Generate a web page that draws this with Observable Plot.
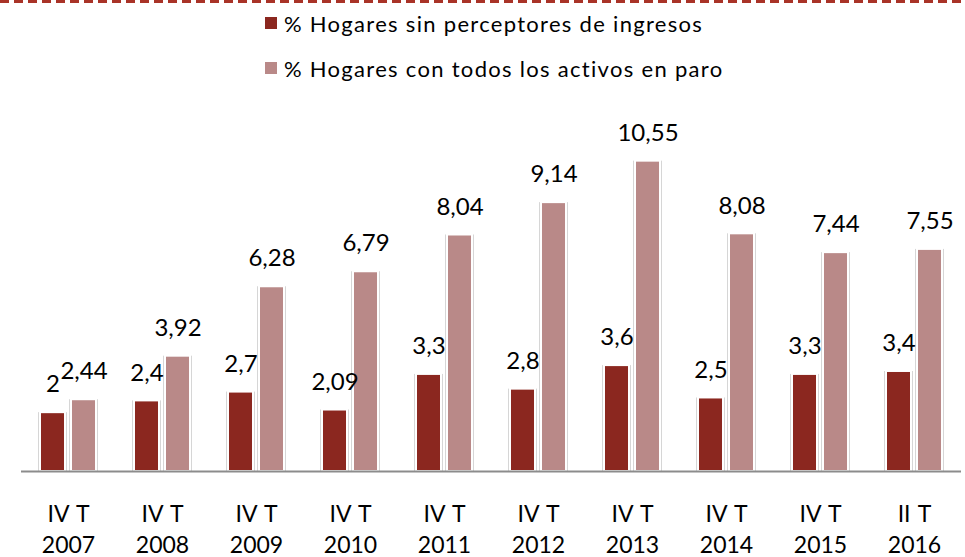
<!DOCTYPE html>
<html>
<head>
<meta charset="utf-8">
<script src="https://cdn.jsdelivr.net/npm/d3@7"></script>
<script src="https://cdn.jsdelivr.net/npm/@observablehq/plot@0.6"></script>
<style>
  html, body { margin: 0; padding: 0; background: #fff; }
  body { width: 965px; height: 557px; position: relative; overflow: hidden; font-family: Lato, "Open Sans", sans-serif; }
  #dash { position: absolute; left: 0; top: 0; width: 965px; height: 3px;
    background: repeating-linear-gradient(90deg, #A93328 0 9px, transparent 9px 14px); }
  #legend { position: absolute; left: 0; top: 0; width: 965px; height: 95px; }
  .row { position: absolute; left: 265px; height: 30px; display: flex; align-items: center; font-size: 22px; letter-spacing: 1.3px; color: #000; white-space: nowrap; }
  .sw { width: 12px; height: 12px; margin-right: 7px; display: inline-block; }
  #chart { position: absolute; left: 0; top: 95px; }
  #chart svg text { word-spacing: 2px; }
</style>
</head>
<body>
<div id="dash"></div>
<div id="legend"></div>
<div id="chart"></div>
<script>
const categories = ["IV T\n2007", "IV T\n2008", "IV T\n2009", "IV T\n2010", "IV T\n2011", "IV T\n2012", "IV T\n2013", "IV T\n2014", "IV T\n2015", "II T\n2016"];
const sinPerceptores = [2, 2.4, 2.7, 2.09, 3.3, 2.8, 3.6, 2.5, 3.3, 3.4];
const todosEnParo = [2.44, 3.92, 6.28, 6.79, 8.04, 9.14, 10.55, 8.08, 7.44, 7.55];
const seriesNames = ["% Hogares sin perceptores de ingresos", "% Hogares con todos los activos en paro"];
const seriesColors = ["#8B271F", "#B98988"];

const data = [];
categories.forEach((c, i) => {
  data.push({cat: c, series: seriesNames[0], value: sinPerceptores[i]});
  data.push({cat: c, series: seriesNames[1], value: todosEnParo[i]});
});
const fmt = v => String(v).replace(".", ",");

// legend
const legend = document.getElementById("legend");
seriesNames.forEach((name, i) => {
  const row = document.createElement("div");
  row.className = "row";
  row.style.top = (8 + i * 45) + "px";
  const sw = document.createElement("span");
  sw.className = "sw";
  sw.style.background = seriesColors[i];
  row.appendChild(sw);
  row.appendChild(document.createTextNode(name));
  legend.appendChild(row);
});

const chart = Plot.plot({
  width: 965,
  height: 462,
  marginLeft: 17,
  marginRight: 0,
  marginTop: 23,
  marginBottom: 86,
  fx: {domain: categories, padding: 0, label: null},
  x: {domain: seriesNames, paddingInner: 0.2, paddingOuter: 0.614, axis: null},
  y: {domain: [0, 12], axis: null},
  color: {domain: seriesNames, range: seriesColors},
  style: {fontFamily: "Lato, 'Open Sans', sans-serif", color: "#000", background: "transparent"},
  marks: [
    Plot.barY(data, {fx: "cat", x: "series", y: "value", fill: "#d6d6d6", insetLeft: -2, insetRight: -2}),
    Plot.barY(data, {fx: "cat", x: "series", y: "value", fill: "series", stroke: "white", strokeWidth: 2}),
    Plot.ruleY([0], {stroke: "#8c8c8c", strokeWidth: 2}),
    Plot.text(data, {fx: "cat", x: "series", y: "value", text: d => fmt(d.value), dy: -28, fontSize: 24, lineAnchor: "middle", fill: "#000"}),
    Plot.axisFx({anchor: "bottom", tickSize: 0, tickPadding: 28, fontSize: 23, lineHeight: 1.37, label: null, fill: "#000"})
  ]
});
document.getElementById("chart").appendChild(chart);
</script>
</body>
</html>
